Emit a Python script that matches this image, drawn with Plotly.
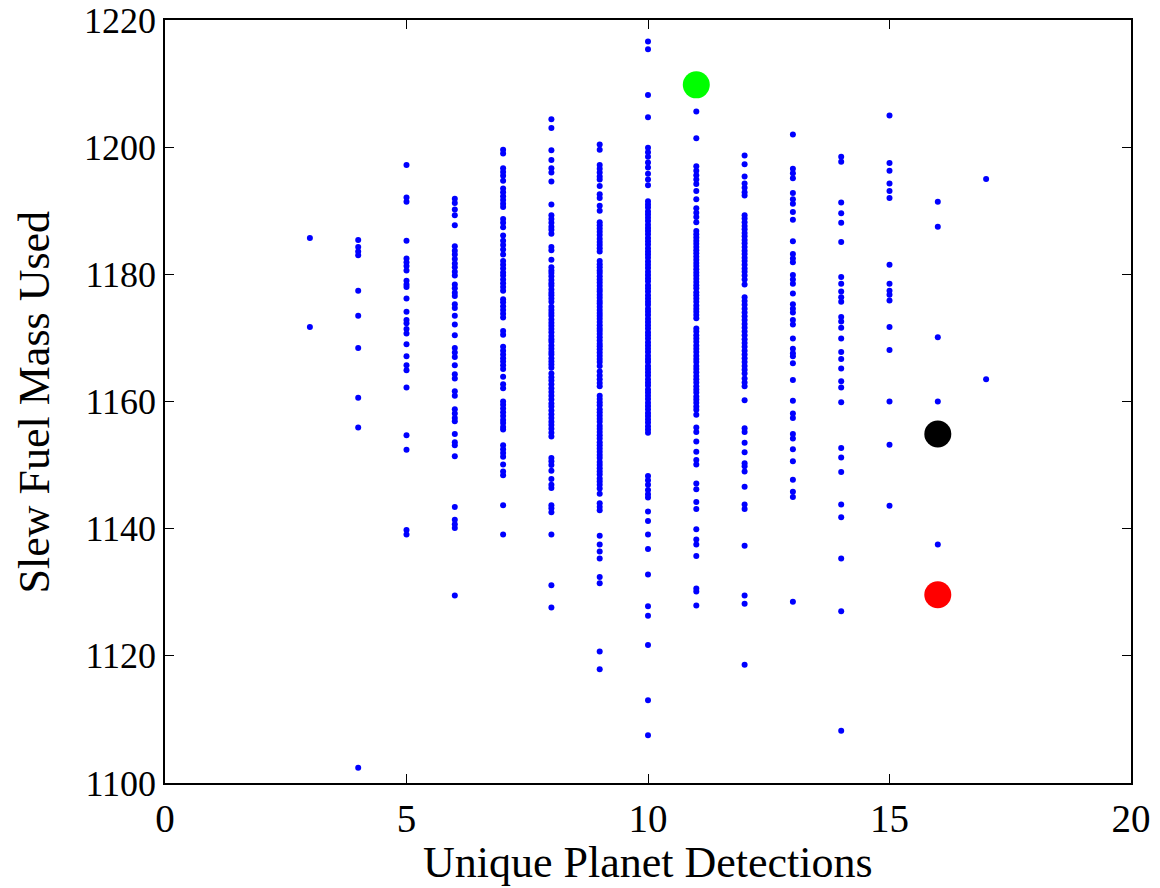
import plotly.graph_objects as go

# Unique planet detections (x) and slew fuel mass used (y), one list per column
col3 = [1185.7, 1171.7]
col4 = [1185.4, 1184.3, 1183.6, 1183.0, 1177.4, 1173.5, 1168.4, 1160.6, 1155.9, 1102.4]
col5 = [1197.2, 1192.1, 1191.4, 1185.3, 1182.5, 1181.9, 1181.3, 1180.6, 1179.0, 1178.4, 1178.0,
        1176.2, 1174.1, 1172.8, 1172.3, 1171.4, 1170.7, 1169.0, 1167.1, 1165.7, 1164.9, 1162.2,
        1154.7, 1152.4, 1139.8, 1139.1]
col6 = [1191.9, 1191.2, 1190.2, 1189.3, 1187.7, 1184.4, 1183.7, 1183.1, 1182.4, 1181.7, 1181.1,
        1180.4, 1179.8, 1178.4, 1177.8, 1177.1, 1176.6, 1175.3, 1174.7, 1173.5, 1172.1, 1170.4,
        1168.4, 1167.7, 1167.0, 1165.7, 1164.3, 1163.6, 1161.6, 1160.9, 1158.8, 1158.1, 1157.4,
        1156.9, 1154.9, 1153.6, 1153.1, 1151.4, 1143.4, 1141.4, 1140.7, 1140.1, 1129.5]
col7 = [1199.6, 1199.0, 1196.7, 1196.1, 1195.5, 1194.7, 1193.5, 1192.9, 1192.3, 1191.7, 1191.1,
        1190.6, 1188.7, 1188.1, 1187.4, 1186.1, 1185.3, 1184.6, 1183.9, 1183.1, 1182.1, 1181.5,
        1180.9, 1180.3, 1179.8, 1179.2, 1178.6, 1178.0, 1177.4, 1176.1, 1175.6, 1175.0, 1174.4,
        1173.8, 1173.2, 1171.1, 1170.5, 1168.6, 1168.0, 1167.4, 1166.8, 1166.3, 1165.7, 1165.1,
        1163.9, 1162.7, 1162.1, 1160.0, 1159.5, 1158.9, 1158.3, 1157.7, 1157.1, 1156.6, 1156.0,
        1155.6, 1153.1, 1152.5, 1151.9, 1151.3, 1150.1, 1149.0, 1148.4, 1143.7, 1139.1]
col8 = [1204.4, 1203.0, 1199.5, 1198.0, 1196.7, 1196.0, 1194.6, 1191.0, 1189.3, 1188.7, 1188.1,
        1187.5, 1187.0, 1186.4, 1184.3, 1183.8, 1182.3, 1181.1, 1180.6, 1180.2, 1179.7, 1179.1,
        1178.6, 1178.2, 1177.6, 1177.1, 1176.7, 1176.2, 1175.7, 1174.9, 1174.4, 1173.9, 1173.5,
        1172.9, 1172.4, 1171.9, 1171.4, 1170.9, 1170.3, 1169.8, 1169.4, 1168.8, 1168.3, 1167.8,
        1167.4, 1166.8, 1166.3, 1165.8, 1165.3, 1164.4, 1163.8, 1163.3, 1162.7, 1162.1, 1161.5,
        1160.9, 1160.3, 1159.7, 1159.2, 1158.6, 1158.0, 1157.4, 1156.8, 1156.3, 1155.7, 1155.1,
        1154.5, 1151.1, 1150.6, 1150.0, 1149.1, 1147.8, 1146.9, 1146.4, 1143.7, 1143.2, 1142.6,
        1139.1, 1131.1, 1127.6]
col9 = [1200.4, 1199.6, 1197.2, 1196.6, 1196.0, 1195.4, 1194.9, 1193.9, 1192.6, 1192.0, 1190.8,
        1190.0, 1188.2, 1187.7, 1187.2, 1186.7, 1186.2, 1185.6, 1185.1, 1184.6, 1184.1, 1183.6,
        1182.1, 1181.6, 1181.1, 1180.6, 1180.2, 1179.7, 1179.2, 1178.7, 1178.2, 1177.7, 1177.3,
        1176.8, 1176.3, 1175.8, 1175.4, 1174.9, 1174.4, 1173.9, 1173.5, 1173.0, 1172.5, 1172.0,
        1171.5, 1171.1, 1170.6, 1170.1, 1169.6, 1169.1, 1168.7, 1168.2, 1167.7, 1167.2, 1166.7,
        1166.2, 1165.6, 1164.7, 1164.1, 1163.5, 1162.9, 1162.4, 1160.9, 1160.4, 1159.9, 1159.4,
        1158.8, 1158.3, 1157.8, 1157.3, 1156.8, 1156.2, 1155.7, 1155.2, 1154.7, 1154.2, 1153.6,
        1153.1, 1152.6, 1152.1, 1151.6, 1151.1, 1150.5, 1150.0, 1149.5, 1149.0, 1148.5, 1147.9,
        1147.4, 1146.9, 1146.3, 1145.5, 1144.0, 1143.4, 1142.9, 1138.9, 1137.5, 1136.4, 1135.3,
        1132.4, 1131.4, 1120.7, 1117.9]
col10 = [1216.6, 1215.4, 1208.2, 1204.7, 1199.9, 1199.2, 1198.5, 1197.6, 1196.8, 1195.8, 1194.9,
         1194.0, 1191.5, 1191.0, 1190.5, 1189.9, 1189.4, 1188.9, 1188.4, 1187.8, 1187.3, 1186.8,
         1186.3, 1185.7, 1185.2, 1184.7, 1184.1, 1183.6, 1183.1, 1182.6, 1182.0, 1181.5, 1181.0,
         1180.4, 1179.9, 1179.4, 1178.9, 1178.3, 1177.8, 1177.3, 1176.7, 1176.2, 1175.7, 1175.2,
         1174.6, 1174.1, 1173.6, 1173.0, 1172.5, 1172.0, 1171.5, 1170.9, 1170.4, 1169.9, 1169.3,
         1168.8, 1168.3, 1167.8, 1167.2, 1166.7, 1166.2, 1165.6, 1165.1, 1164.6, 1164.1, 1163.5,
         1163.0, 1162.5, 1161.9, 1161.4, 1160.9, 1160.4, 1159.8, 1159.3, 1158.8, 1158.2, 1157.7,
         1157.2, 1156.7, 1156.1, 1155.6, 1155.1, 1148.3, 1147.6, 1146.9, 1146.1, 1145.4, 1144.9,
         1142.7, 1141.2, 1139.1, 1136.8, 1132.8, 1127.8, 1126.3, 1121.7, 1113.0, 1107.5]
col11 = [1205.6, 1201.4, 1197.0, 1196.3, 1195.6, 1194.9, 1194.2, 1193.1, 1191.8, 1190.4, 1189.7,
         1189.0, 1188.2, 1186.8, 1186.3, 1185.8, 1185.3, 1184.8, 1184.3, 1183.8, 1183.3, 1182.8,
         1182.3, 1181.8, 1181.3, 1180.8, 1180.3, 1179.8, 1179.3, 1178.8, 1178.3, 1177.8, 1177.2,
         1176.7, 1176.2, 1175.7, 1175.1, 1174.6, 1174.1, 1173.6, 1173.1, 1171.5, 1171.0, 1170.4,
         1169.9, 1169.4, 1168.8, 1168.3, 1167.8, 1167.2, 1166.7, 1166.2, 1165.6, 1165.1, 1164.6,
         1164.0, 1163.5, 1163.0, 1162.4, 1161.9, 1161.4, 1160.8, 1160.3, 1159.8, 1159.2, 1158.7,
         1157.9, 1155.9, 1155.2, 1153.7, 1152.1, 1150.8, 1150.1, 1147.1, 1146.2, 1144.2, 1143.1,
         1139.9, 1138.3, 1137.5, 1135.7, 1130.6, 1130.1, 1127.9]
col12 = [1198.7, 1197.3, 1195.4, 1194.3, 1193.6, 1192.9, 1192.4, 1189.3, 1188.8, 1188.2, 1187.6,
         1187.1, 1186.5, 1186.0, 1185.4, 1184.9, 1184.3, 1183.7, 1183.2, 1182.6, 1182.1, 1181.5,
         1180.9, 1180.4, 1179.8, 1179.2, 1178.4, 1176.4, 1175.8, 1175.2, 1174.6, 1174.0, 1173.4,
         1172.8, 1172.2, 1171.6, 1171.0, 1170.4, 1169.8, 1169.2, 1168.6, 1168.0, 1167.4, 1166.8,
         1166.2, 1165.6, 1165.0, 1164.4, 1163.6, 1163.0, 1162.4, 1160.2, 1155.8, 1155.2, 1153.5,
         1152.0, 1150.3, 1149.8, 1149.0, 1146.6, 1143.8, 1143.1, 1137.3, 1129.5, 1128.2, 1118.6]
col13 = [1202.0, 1196.6, 1195.9, 1195.1, 1192.8, 1191.8, 1191.1, 1189.8, 1188.6, 1185.2, 1183.2,
         1182.5, 1181.9, 1179.9, 1179.2, 1178.5, 1177.0, 1175.3, 1174.6, 1174.0, 1172.8, 1172.1,
         1169.9, 1168.3, 1167.6, 1167.1, 1166.0, 1163.4, 1160.1, 1158.1, 1157.4, 1154.9, 1154.2,
         1152.5, 1150.6, 1147.7, 1145.8, 1145.0, 1128.5]
col14 = [1198.5, 1197.7, 1191.3, 1189.6, 1188.1, 1185.1, 1179.6, 1178.5, 1177.3, 1176.4, 1175.7,
         1173.3, 1172.6, 1171.6, 1169.9, 1167.8, 1166.7, 1165.2, 1163.2, 1162.2, 1159.9, 1152.7,
         1151.2, 1148.9, 1143.8, 1141.8, 1135.3, 1127.0, 1108.2]
col15 = [1205.0, 1197.5, 1196.3, 1194.3, 1193.1, 1192.0, 1181.5, 1178.5, 1177.4, 1176.8, 1175.9,
         1171.7, 1168.1, 1160.0, 1153.2, 1143.6]
col16 = [1191.4, 1187.5, 1170.1, 1160.0, 1137.5]
col17 = [1195.0, 1163.5]

detections = [3, 4, 5, 6, 7, 8, 9, 10, 11, 12, 13, 14, 15, 16, 17]
fuel_columns = [col3, col4, col5, col6, col7, col8, col9, col10, col11, col12,
                col13, col14, col15, col16, col17]

# Highlighted runs
green_x, green_y = [11], [1209.8]
black_x, black_y = [16], [1154.9]
red_x, red_y = [16], [1129.6]

x_ticks = [0, 5, 10, 15, 20]
y_ticks = [1100, 1120, 1140, 1160, 1180, 1200, 1220]

xs, ys = [], []
for d, col in zip(detections, fuel_columns):
    xs.extend([d] * len(col))
    ys.extend(col)

fig = go.Figure()
fig.add_trace(go.Scatter(x=xs, y=ys, mode="markers",
                         marker=dict(color="#0000FF", size=6, line=dict(width=0)),
                         showlegend=False, hoverinfo="x+y"))
for gx, gy, c in [(green_x, green_y, "#00FF00"), (black_x, black_y, "#000000"),
                  (red_x, red_y, "#FF0000")]:
    fig.add_trace(go.Scatter(x=gx, y=gy, mode="markers",
                             marker=dict(color=c, size=27, line=dict(width=0)),
                             showlegend=False))

font_family = "Liberation Serif, Times New Roman, serif"
fig.update_layout(
    width=1152, height=880,
    margin=dict(l=157, r=29, t=12, b=105, autoexpand=False),
    paper_bgcolor="white", plot_bgcolor="white",
    font=dict(family=font_family, color="black"),
    annotations=[
        dict(text="Unique Planet Detections", xref="paper", yref="paper",
             x=0.5, y=-0.104, xanchor="center", yanchor="middle", showarrow=False,
             font=dict(size=44, family=font_family, color="black")),
        dict(text="Slew Fuel Mass Used", xref="paper", yref="paper",
             x=-0.1346, y=0.5, xanchor="center", yanchor="middle", showarrow=False,
             textangle=-90, font=dict(size=44, family=font_family, color="black")),
    ],
)
fig.update_xaxes(
    range=[0, 20], tickvals=x_ticks, ticktext=[str(v) for v in x_ticks],
    showgrid=False, zeroline=False, showline=True, linecolor="black", linewidth=1.5,
    mirror="ticks", ticks="inside", ticklen=9, tickwidth=1.2, tickcolor="black",
    tickfont=dict(size=39, family=font_family), automargin=False,
    ticklabeloverflow="allow",
)
fig.update_yaxes(
    range=[1100, 1220], tickvals=y_ticks, ticktext=[str(v) for v in y_ticks],
    showgrid=False, zeroline=False, showline=True, linecolor="black", linewidth=1.5,
    mirror="ticks", ticks="inside", ticklen=9, tickwidth=1.2, tickcolor="black",
    tickfont=dict(size=36, family=font_family), automargin=False,
    ticklabeloverflow="allow",
)

fig.write_html("out.html")
